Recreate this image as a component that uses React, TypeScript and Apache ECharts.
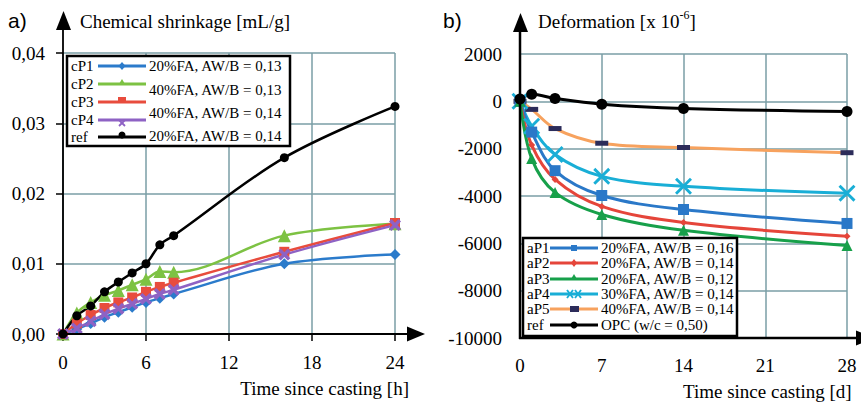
import React, { useEffect, useRef } from 'react';
import * as echarts from 'echarts';

// ---------- Data: chart a) chemical shrinkage ----------
const hoursA = [0, 1, 2, 3, 4, 5, 6, 7, 8, 16, 24];
const cP1 = [0, 0.0007, 0.0015, 0.0024, 0.0031, 0.0038, 0.0045, 0.0051, 0.0057, 0.0100, 0.0113];
const cP2 = [0, 0.0030, 0.0045, 0.0055, 0.0062, 0.0070, 0.0078, 0.0089, 0.0088, 0.0140, 0.0157];
const cP3 = [0, 0.0015, 0.0027, 0.0037, 0.0045, 0.0052, 0.0060, 0.0067, 0.0073, 0.0117, 0.0158];
const cP4 = [0, 0.0008, 0.0018, 0.0028, 0.0036, 0.0043, 0.0050, 0.0057, 0.0063, 0.0113, 0.0155];
const refA = [0, 0.0026, 0.0040, 0.0060, 0.0074, 0.0087, 0.0100, 0.0127, 0.0140, 0.0251, 0.0324];
const namesA = ['cP1', 'cP2', 'cP3', 'cP4', 'ref'];
const descA = ['20%FA, AW/B = 0,13', '40%FA, AW/B = 0,13', '40%FA, AW/B = 0,14', '20%FA, AW/B = 0,14'];
const ticksXA = [0, 6, 12, 18, 24];
const ticksYA = [0, 0.01, 0.02, 0.03, 0.04];

// ---------- Data: chart b) deformation ----------
const daysB = [0, 1, 3, 7, 14, 28];
const aP1 = [0, -1300, -2930, -3980, -4570, -5160];
const aP2 = [0, -1850, -3300, -4440, -5120, -5700];
const aP3 = [0, -2420, -3850, -4780, -5450, -6090];
const aP4 = [0, -1050, -2250, -3170, -3590, -3880];
const aP5 = [0, -340, -1150, -1770, -1950, -2170];
const refB = [100, 300, 120, -120, -300, -430];
const namesB = ['aP1', 'aP2', 'aP3', 'aP4', 'aP5', 'ref'];
const descB = ['20%FA, AW/B = 0,16', '20%FA, AW/B = 0,14', '20%FA, AW/B = 0,12', '30%FA, AW/B = 0,14', '40%FA, AW/B = 0,14', 'OPC (w/c = 0,50)'];
const ticksXB = [0, 7, 14, 21, 28];
const ticksYB = [2000, 0, -2000, -4000, -6000, -8000, -10000];

const serif = 'Liberation Serif';
const sans = 'Liberation Sans';
const gridColor = '#7a9ea6';

const xSym = 'path://M2,0 L5,3 L8,0 L10,2 L7,5 L10,8 L8,10 L5,7 L2,10 L0,8 L3,5 L0,2 Z';
const xSymThin = 'path://M1.2,0 L5,3.8 L8.8,0 L10,1.2 L6.2,5 L10,8.8 L8.8,10 L5,6.2 L1.2,10 L0,8.8 L3.8,5 L0,1.2 Z';

const colA = { blue: '#2b7bcb', green: '#7dc243', red: '#e84c3d', purple: '#8e62c4', black: '#000000' };
const colB = { blue: '#2a78c8', red: '#e5453a', green: '#17a04a', cyan: '#19aed6', orange: '#f7a25e', navy: '#2c2c5a', black: '#000000' };

function pairs(xs: number[], ys: number[]) {
  return xs.map((x, i) => [x, ys[i]]);
}

function txt(x: number, y: number, text: string, size: number, family: string, align = 'left', z = 100) {
  return {
    type: 'text', x, y, z,
    style: { text, fontSize: size, fontFamily: family, fill: '#000', align, verticalAlign: 'middle', textAlign: align, textVerticalAlign: 'middle' },
  };
}

function line(x1: number, y1: number, x2: number, y2: number, color: string, w: number, z = 100) {
  return { type: 'line', z, shape: { x1, y1, x2, y2 }, style: { stroke: color, lineWidth: w } };
}

function poly(points: number[][], color: string, z = 100) {
  return { type: 'polygon', z, shape: { points }, style: { fill: color } };
}

export default function App() {
  const ref = useRef<HTMLDivElement>(null);
  useEffect(() => {
    if (!ref.current) return;
    const chart = echarts.init(ref.current, undefined, { renderer: 'svg' });

    const split = { show: true, lineStyle: { color: gridColor, width: 1.5 } };

    const mk = (name: string, xs: number[], ys: number[], color: string, symbol: string, size: any, width: number, gi: number, symColor?: string) => ({
      name, type: 'line', xAxisIndex: gi, yAxisIndex: gi, data: pairs(xs, ys),
      smooth: 0.35, clip: false, symbol, symbolSize: size, showSymbol: true,
      lineStyle: { color, width }, itemStyle: { color: symColor || color },
    });

    chart.setOption({
      animation: false,
      grid: [
        { left: 63, top: 53, width: 332, height: 281 },
        { left: 520, top: 54, width: 327, height: 284 },
      ],
      xAxis: [
        {
          gridIndex: 0, type: 'value', min: 0, max: 24, interval: 6,
          axisLine: { show: false },
          axisTick: { show: true, length: 7, lineStyle: { color: '#000', width: 1.5 } },
          axisLabel: { show: false },
          splitLine: split,
        },
        {
          gridIndex: 1, type: 'value', min: 0, max: 28, interval: 7,
          axisLine: { show: false },
          axisTick: { show: false },
          axisLabel: { show: false },
          splitLine: split,
        },
      ],
      yAxis: [
        {
          gridIndex: 0, type: 'value', min: 0, max: 0.04, interval: 0.01,
          axisLine: { show: false },
          axisTick: { show: true, length: 7, lineStyle: { color: '#000', width: 1.5 } },
          axisLabel: { show: false },
          splitLine: split,
        },
        {
          gridIndex: 1, type: 'value', min: -10000, max: 2000, interval: 2000,
          axisLine: { show: false },
          axisTick: { show: false },
          axisLabel: { show: false },
          splitLine: split,
        },
      ],
      series: [
        mk('cP1', hoursA, cP1, colA.blue, 'diamond', 11, 2.5, 0),
        mk('cP2', hoursA, cP2, colA.green, 'triangle', 13, 2.5, 0),
        mk('cP3', hoursA, cP3, colA.red, 'rect', 10, 2.5, 0),
        mk('cP4', hoursA, cP4, colA.purple, xSym, 12, 2.5, 0),
        mk('refA', hoursA, refA, colA.black, 'circle', 9, 2.5, 0),
        mk('aP5', daysB, aP5, colB.orange, 'rect', [13, 5], 3, 1, colB.navy),
        mk('aP4', daysB, aP4, colB.cyan, xSymThin, 17, 3, 1),
        mk('aP1', daysB, aP1, colB.blue, 'rect', 11, 3, 1),
        mk('aP2', daysB, aP2, colB.red, 'diamond', 7, 3, 1),
        mk('aP3', daysB, aP3, colB.green, 'triangle', 11, 3, 1),
        mk('refB', daysB, refB, colB.black, 'circle', 11, 3, 1),
      ],
    });

    // tick labels placed through the axes' own scales
    const tickLabels: any[] = [];
    ticksXA.forEach((v) => {
      const p = chart.convertToPixel({ gridIndex: 0 }, [v, 0]) as number[];
      tickLabels.push(txt(p[0], p[1] + 28, String(v), 19, serif, 'center'));
    });
    ticksYA.forEach((v) => {
      const p = chart.convertToPixel({ gridIndex: 0 }, [0, v]) as number[];
      tickLabels.push(txt(p[0] - 18, p[1], v.toFixed(2).replace('.', ','), 19, serif, 'right'));
    });
    ticksXB.forEach((v) => {
      const p = chart.convertToPixel({ gridIndex: 1 }, [v, -10000]) as number[];
      tickLabels.push(txt(p[0], p[1] + 27, String(v), 19, serif, 'center'));
    });
    ticksYB.forEach((v) => {
      const p = chart.convertToPixel({ gridIndex: 1 }, [0, v]) as number[];
      tickLabels.push(txt(p[0] - 18, p[1], String(v), 19, serif, 'right'));
    });

    // legend a
    const rowsA = [66, 84, 102, 120, 137];
    const descYA = [66, 90, 113, 136];
    const lcolA = [colA.blue, colA.green, colA.red, colA.purple, colA.black];
    const legA: any[] = [
      { type: 'rect', z: 99, shape: { x: 67, y: 56, width: 223, height: 90 }, style: { fill: '#fff', stroke: '#000', lineWidth: 2.5 } },
    ];
    rowsA.forEach((y, i) => {
      legA.push(txt(71, y, namesA[i], 15, serif));
      legA.push(line(98, y, 146, y, lcolA[i], 3));
    });
    descYA.forEach((y, i) => legA.push(txt(149, y, descA[i], 15, serif)));
    legA.push(poly([[122, 62], [125.5, 66], [122, 70], [118.5, 66]], colA.blue));
    legA.push(poly([[122, 79], [125, 84], [119, 84]], colA.green));
    legA.push({ type: 'rect', z: 100, shape: { x: 118, y: 97, width: 8, height: 5 }, style: { fill: colA.red } });
    legA.push(line(119, 120, 125, 126, colA.purple, 1.8));
    legA.push(line(125, 120, 119, 126, colA.purple, 1.8));
    legA.push({ type: 'circle', z: 100, shape: { cx: 122, cy: 135, r: 3.5 }, style: { fill: '#000' } });

    // legend b
    const rowsB = [248, 263, 279, 294, 309, 325];
    const lcolB = [colB.blue, colB.red, colB.green, colB.cyan, colB.orange, colB.black];
    const legB: any[] = [
      { type: 'rect', z: 99, shape: { x: 523, y: 238, width: 214, height: 98 }, style: { fill: '#fff', stroke: '#000', lineWidth: 2.5 } },
    ];
    rowsB.forEach((y, i) => {
      legB.push(txt(527, y, namesB[i], 15, serif));
      legB.push(line(550, y, 598, y, lcolB[i], 3));
      legB.push(txt(601, y, descB[i], 15, serif));
    });
    legB.push({ type: 'rect', z: 100, shape: { x: 571, y: 245, width: 6, height: 6 }, style: { fill: colB.blue } });
    legB.push(poly([[574, 259], [577, 263], [574, 267], [571, 263]], colB.red));
    legB.push(poly([[574, 274], [577.5, 280], [570.5, 280]], colB.green));
    legB.push(line(567, 290, 573, 298, colB.cyan, 1.8));
    legB.push(line(573, 290, 567, 298, colB.cyan, 1.8));
    legB.push(line(575, 290, 581, 298, colB.cyan, 1.8));
    legB.push(line(581, 290, 575, 298, colB.cyan, 1.8));
    legB.push({ type: 'rect', z: 100, shape: { x: 570, y: 306, width: 9, height: 6 }, style: { fill: colB.navy } });
    legB.push({ type: 'circle', z: 100, shape: { cx: 574, cy: 325, r: 3.5 }, style: { fill: '#000' } });

    const axes: any[] = [
      // a axes
      line(63, 335, 63, 26, '#000', 1.8, 50),
      poly([[63.5, 11], [56, 30], [71, 30]], '#000', 50),
      line(62, 334, 410, 334, '#000', 2, 50),
      poly([[425, 334], [407, 326.5], [407, 341.5]], '#000', 50),
      // b axes
      line(520, 339, 520, 28, '#000', 2.5, 50),
      poly([[520.5, 13], [513, 32], [528, 32]], '#000', 50),
      line(519, 338, 861, 338, '#000', 2.5, 50),
      poly([[874, 338], [856, 330.5], [856, 345.5]], '#000', 50),
    ];

    const titles: any[] = [
      txt(8, 20, 'a)', 21, sans),
      txt(80, 21, 'Chemical shrinkage [mL/g]', 19, serif),
      txt(409, 388, 'Time since casting [h]', 19, serif, 'right'),
      txt(443, 20, 'b)', 21, sans),
      {
        type: 'text', x: 538, y: 21, z: 100,
        style: {
          text: '{m|Deformation [x 10}{s|-6}{m|]}',
          fill: '#000', align: 'left', verticalAlign: 'middle', textAlign: 'left', textVerticalAlign: 'middle',
          rich: {
            m: { fontSize: 19, fontFamily: serif, fill: '#000', lineHeight: 24 },
            s: { fontSize: 12, fontFamily: serif, fill: '#000', verticalAlign: 'top', lineHeight: 16 },
          },
        },
      },
      txt(683, 391, 'Time since casting [d]', 19, serif),
    ];

    chart.setOption({ graphic: [...axes, ...tickLabels, ...legA, ...legB, ...titles] });

    return () => chart.dispose();
  }, []);

  return <div ref={ref} style={{ position: 'fixed', left: 0, top: 0, width: 861, height: 404, background: '#fff' }} />;
}
